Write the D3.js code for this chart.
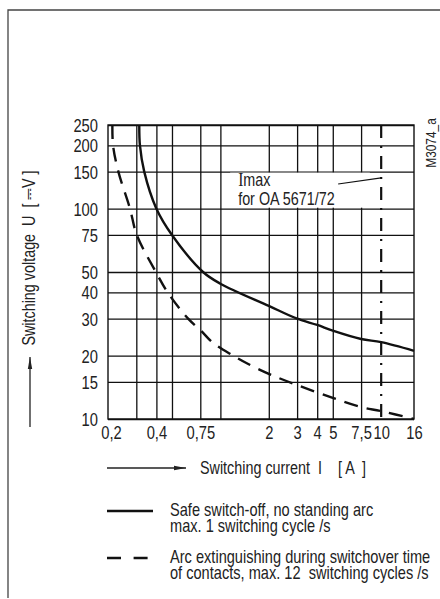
<!DOCTYPE html>
<html>
<head>
<meta charset="utf-8">
<script src="https://cdn.jsdelivr.net/npm/d3@7"></script>
<style>
  body { margin: 0; background: #fff; }
  svg text { font-family: "Liberation Sans", Arial, sans-serif; fill: #222; }
</style>
</head>
<body>
<div id="chart"></div>
<script>
// voltage gridlines / labels [V]
const uTicks = [10, 15, 20, 30, 40, 50, 75, 100, 150, 200, 250];
// current gridlines and labels [A]
const iGrid = [0.3, 0.4, 0.5, 0.75, 1, 2, 3, 4, 5, 7.5];
const iLabels = [0.2, 0.4, 0.75, 2, 3, 4, 5, 7.5, 10, 16];
const iMax = 10;

// safe switch-off, no standing arc
const safeI = [0.313, 0.316, 0.336, 0.4, 0.5, 0.78, 1.0, 2.0, 3, 4, 5, 7.5, 10, 16];
const safeU = [250, 200, 150, 100, 75, 50, 44, 34.5, 30, 28, 26.3, 24, 23.2, 21.1];
// arc extinguishing during switchover time
const arcI = [0.213, 0.215, 0.232, 0.274, 0.302, 0.397, 0.47, 0.63, 0.75, 0.9, 1.2, 1.46, 2, 3, 5, 7.5, 10, 16];
const arcU = [250, 200, 150, 100, 75, 50, 40, 30, 26.5, 23, 20, 18.4, 16.4, 14.5, 12.6, 11.4, 10.9, 10];

const legendLabels = [
    ["Safe switch-off, no standing arc", "max. 1 switching cycle /s"],
    ["Arc extinguishing during switchover time", "of contacts, max. 12  switching cycles /s"],
];

const width = 440, height = 599;
const plot = { left: 108, top: 125, right: 414, bottom: 419 };
const squeeze = 0.82; // Liberation Sans squeezed ~ Arial Narrow
const fmt = (d) => String(d).replace(".", ",");

const svg = d3.select("#chart").append("svg")
    .attr("width", width)
    .attr("height", height);

// condensed text helper
function label(x0, y0, str, size, rot = 0, anchor = "start") {
    const g = svg.append("g")
        .attr("transform", `translate(${x0},${y0}) rotate(${rot}) scale(${squeeze},1)`);
    const t = g.append("text")
        .attr("font-size", size)
        .attr("text-anchor", anchor)
        .style("white-space", "pre")
        .text(str);
    return t;
}

// outer frame (left + top edges only visible)
svg.append("path")
    .attr("d", "M8,598 V10 H441")
    .attr("fill", "none")
    .attr("stroke", "#444")
    .attr("stroke-width", 1.3);

const x = d3.scaleLog().domain([0.2, 16]).range([plot.left, plot.right]);
const y = d3.scaleLog().domain([10, 250]).range([plot.bottom, plot.top]);

// vertical gridlines
svg.append("g")
    .attr("transform", `translate(0,${plot.bottom})`)
    .call(d3.axisBottom(x).tickValues(iGrid).tickSize(-(plot.bottom - plot.top)).tickFormat(""))
    .call((g) => g.select(".domain").remove())
    .call((g) => g.selectAll("line").attr("stroke", "#111").attr("stroke-width", 1.3));

// horizontal gridlines + labels
svg.append("g")
    .attr("transform", `translate(${plot.left},0)`)
    .call(d3.axisLeft(y).tickValues(uTicks).tickFormat(fmt).tickSize(-(plot.right - plot.left)).tickPadding(10))
    .call((g) => g.select(".domain").remove())
    .call((g) => g.selectAll("line").attr("stroke", "#111").attr("stroke-width", 1.3))
    .call((g) => g.selectAll("text")
        .attr("font-size", 18).attr("fill", "#222").attr("dy", "0.36em")
        .attr("x", -10 / squeeze)
        .attr("transform", `scale(${squeeze},1)`));

// x labels
svg.append("g")
    .attr("transform", `translate(0,${plot.bottom})`)
    .call(d3.axisBottom(x).tickValues(iLabels).tickFormat(fmt).tickSize(0).tickPadding(7))
    .call((g) => g.select(".domain").remove())
    .call((g) => g.selectAll("text")
        .attr("font-size", 18).attr("fill", "#222")
        .attr("x", (d) => (d === 0.2 ? 3 / squeeze : 0))
        .attr("transform", `scale(${squeeze},1)`));

// plot border
svg.append("rect")
    .attr("x", plot.left).attr("y", plot.top)
    .attr("width", plot.right - plot.left).attr("height", plot.bottom - plot.top)
    .attr("fill", "none").attr("stroke", "#111").attr("stroke-width", 1.4);

// white box behind the Imax note
const boxL = x(1.15), boxR = x(8.5);
svg.append("rect")
    .attr("x", boxL).attr("y", y(150) + 1)
    .attr("width", boxR - boxL).attr("height", y(100) - y(150) - 2)
    .attr("fill", "#fff");

// Imax line (dash-dot)
svg.append("line")
    .attr("x1", x(iMax)).attr("x2", x(iMax))
    .attr("y1", plot.top).attr("y2", plot.bottom)
    .attr("stroke", "#111").attr("stroke-width", 2.2)
    .attr("stroke-dasharray", "13,8,2,8");

const note = label(boxL + 8, 186, "", 17.5);
note.append("tspan").attr("font-family", "Liberation Serif, serif").attr("font-size", 19).text("I");
note.append("tspan").text("max");
note.append("tspan").attr("x", 0).attr("dy", 19).text("for OA 5671/72");
svg.append("line")
    .attr("x1", x(5.4)).attr("y1", y(131))
    .attr("x2", x(iMax)).attr("y2", y(140))
    .attr("stroke", "#111").attr("stroke-width", 1.2);

// curves
const line = d3.line()
    .x((d) => x(d[0]))
    .y((d) => y(d[1]))
    .curve(d3.curveCatmullRom.alpha(0.5));

svg.append("path")
    .datum(safeI.map((v, i) => [v, safeU[i]]))
    .attr("d", line)
    .attr("fill", "none").attr("stroke", "#111").attr("stroke-width", 2.4);

svg.append("path")
    .datum(arcI.map((v, i) => [v, arcU[i]]))
    .attr("d", line)
    .attr("fill", "none").attr("stroke", "#111").attr("stroke-width", 2.4)
    .attr("stroke-dasharray", "14,9");

// axis titles with arrows
svg.append("defs").append("marker")
    .attr("id", "arrow")
    .attr("viewBox", "0 0 12 6")
    .attr("refX", 12).attr("refY", 3)
    .attr("markerWidth", 12).attr("markerHeight", 6)
    .attr("markerUnits", "userSpaceOnUse")
    .attr("orient", "auto")
    .append("path").attr("d", "M0,0.8 L12,3 L0,5.2 Z").attr("fill", "#222");

svg.append("line")
    .attr("x1", 30).attr("y1", 427).attr("x2", 30).attr("y2", 357)
    .attr("stroke", "#222").attr("stroke-width", 1.3)
    .attr("marker-end", "url(#arrow)");
label(35, 258, "Switching voltage  U  [ \u2393V ]", 17.5, -90, "middle");

svg.append("line")
    .attr("x1", 107).attr("y1", 468).attr("x2", 186).attr("y2", 468)
    .attr("stroke", "#222").attr("stroke-width", 1.3)
    .attr("marker-end", "url(#arrow)");
label(200, 474, "Switching current  I    [ A  ]", 17.5);

label(436, 143, "M3074_a", 14.5, -90, "middle");

// legend
const legendY = [511, 558];
legendLabels.forEach((lines, i) => {
    svg.append("line")
        .attr("x1", 107).attr("x2", i === 0 ? 153 : 148)
        .attr("y1", legendY[i]).attr("y2", legendY[i])
        .attr("stroke", "#111").attr("stroke-width", 2.4)
        .attr("stroke-dasharray", i === 0 ? null : "14,12.6");
    const t = label(170, legendY[i] + 5, "", 17.8);
    lines.forEach((s, j) => t.append("tspan").attr("x", 0).attr("dy", j === 0 ? 0 : 16.5).text(s));
});
</script>
</body>
</html>
